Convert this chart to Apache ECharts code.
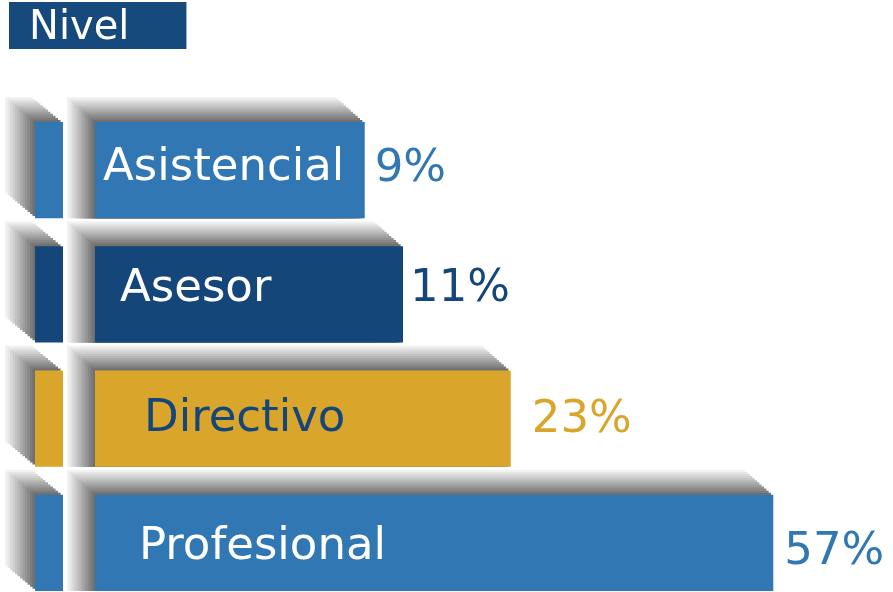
<!DOCTYPE html>
<html><head><meta charset="utf-8">
<script src="https://cdn.jsdelivr.net/npm/echarts@6/dist/echarts.min.js"></script>
<style>html,body{margin:0;padding:0;background:#fff;overflow:hidden}#c{width:893px;height:592px}</style>
</head><body><div id="c"></div>
<script>
// ---- data ----
const categories = ['Asistencial', 'Asesor', 'Directivo', 'Profesional'];
const percentValues = [9, 11, 23, 57];
// drawn bar lengths (axis units 0-100)
const barLength = [33.8, 38.6, 52.1, 85.0];
const percentLabels = percentValues.map(v => v + '%');

// ---- style ----
const barColors = ['#3077b4', '#15467a', '#d9a62b', '#3077b4'];
const nameColors = ['#ffffff', '#ffffff', '#15467a', '#ffffff'];
const pctColors = ['#3077b4', '#15467a', '#d9a62b', '#3077b4'];
const nameIndent = [8, 25, 49, 44];
const nameDy = [-5, -8, -2, 1.5];
const pctGap = [10, 7, 21, 11];
const pctDy = [-3.5, -8.5, -1, 6.5];
const FONT = 'DejaVu Sans';

function gray(t) { // t=1 far (light), t=0 near (dark)
  const c = Math.round(112 + (242 - 112) * t);
  return 'rgb(' + c + ',' + c + ',' + c + ')';
}

function renderItem(params, api) {
  const i = params.dataIndex;
  const start = api.coord([0, api.value(1)]);
  const end = api.coord([api.value(0), api.value(1)]);
  const band = api.size([0, 1])[1];
  const h = band * 0.773;
  const x0 = start[0], x1 = end[0], yc = start[1];
  const y0 = yc - h / 2, y1 = yc + h / 2;
  const bx0 = x0 - 60, bx1 = x0 - 32;
  const N = 12, DXb = -30, DXm = -28, DY = -25;
  const children = [];
  // left small block extrusion
  for (let k = N; k >= 1; k--) {
    const t = k / N;
    children.push({ type: 'rect', shape: { x: bx0 + DXb * t, y: y0 + DY * t, width: bx1 - bx0, height: h },
      style: { fill: gray((k - 1) / (N - 1)) } });
  }
  children.push({ type: 'rect', shape: { x: bx0, y: y0, width: bx1 - bx0, height: h }, style: { fill: barColors[i] } });
  // main bar extrusion
  for (let k = N; k >= 1; k--) {
    const t = k / N;
    const yy = y0 + DY * t;
    children.push({ type: 'rect', shape: { x: x0 + DXm * t, y: yy, width: x1 - x0, height: y1 - yy },
      style: { fill: gray((k - 1) / (N - 1)) } });
  }
  children.push({ type: 'rect', shape: { x: x0, y: y0, width: x1 - x0, height: h }, style: { fill: barColors[i] } });
  children.push({ type: 'text', style: { text: categories[i], x: x0 + nameIndent[i], y: yc + nameDy[i] + 3,
    fill: nameColors[i], fontSize: 45, fontFamily: FONT, verticalAlign: 'middle', align: 'left' } });
  children.push({ type: 'text', style: { text: percentLabels[i], x: x1 + pctGap[i], y: yc + pctDy[i] + 3,
    fill: pctColors[i], fontSize: 45, fontFamily: FONT, verticalAlign: 'middle', align: 'left' } });
  return { type: 'group', children: children };
}

const chart = echarts.init(document.getElementById('c'), null, { renderer: 'canvas' });
chart.setOption({
  animation: false,
  backgroundColor: '#ffffff',
  title: {
    text: 'Nivel', left: 9, top: 2,
    backgroundColor: '#174a7c',
    padding: [7, 57, 0, 20],
    textStyle: { color: '#ffffff', fontSize: 40, fontFamily: FONT, fontWeight: 'normal', lineHeight: 40 }
  },
  grid: { left: 95, top: 108, width: 798, height: 497, outerBoundsMode: 'none', containLabel: false },
  xAxis: { type: 'value', min: 0, max: 100, show: false },
  yAxis: { type: 'category', data: categories, inverse: true, show: false },
  series: [{
    type: 'custom',
    renderItem: renderItem,
    clip: false,
    encode: { x: 0, y: 1 },
    data: categories.map((c, i) => [barLength[i], i])
  }]
});
</script>
</body></html>
